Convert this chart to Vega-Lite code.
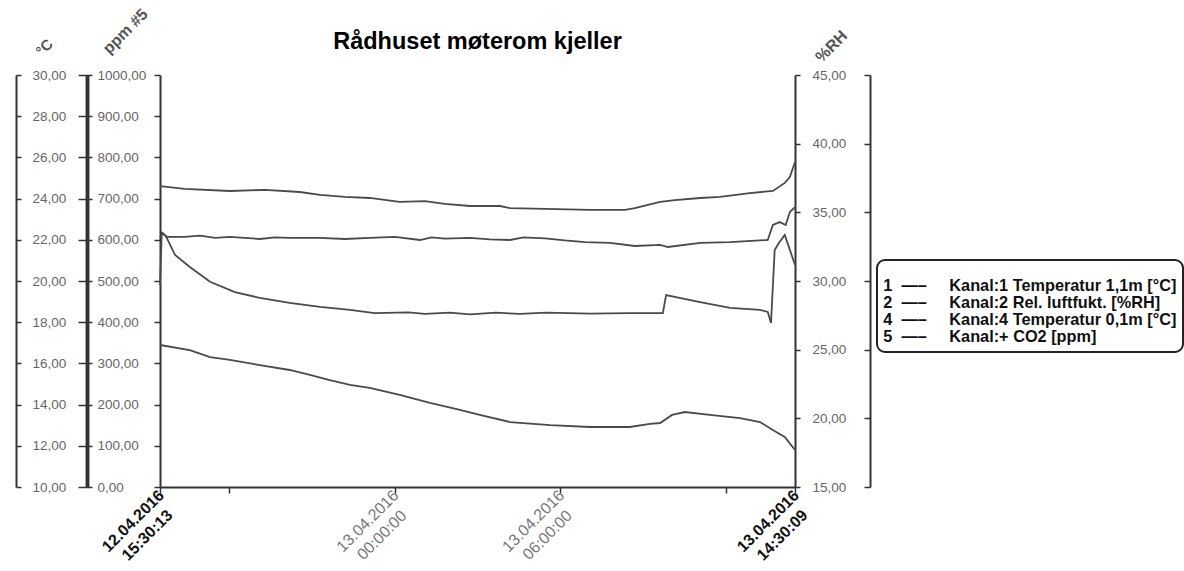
{
  "$schema": "https://vega.github.io/schema/vega-lite/v6.json",
  "autosize": {"type": "none"},
  "padding": {"left": 160, "top": 75, "right": 389, "bottom": 84},
  "width": 635,
  "height": 412,
  "background": "white",
  "title": {"text": "Rådhuset møterom kjeller", "font": "Liberation Sans", "fontSize": 23.5, "fontWeight": "bold", "color": "#000", "anchor": "middle", "frame": "group", "baseline": "alphabetic", "offset": 10, "dy": 77},
  "data": {"values": [
    {"t": "2016-04-12T15:30:13", "kanal": "1", "v": 24.61},
    {"t": "2016-04-12T16:24:00", "kanal": "1", "v": 24.47},
    {"t": "2016-04-12T18:02:00", "kanal": "1", "v": 24.37},
    {"t": "2016-04-12T19:18:00", "kanal": "1", "v": 24.42},
    {"t": "2016-04-12T20:34:00", "kanal": "1", "v": 24.32},
    {"t": "2016-04-12T21:18:00", "kanal": "1", "v": 24.18},
    {"t": "2016-04-12T22:12:00", "kanal": "1", "v": 24.08},
    {"t": "2016-04-12T23:06:00", "kanal": "1", "v": 24.03},
    {"t": "2016-04-13T00:11:00", "kanal": "1", "v": 23.84},
    {"t": "2016-04-13T01:06:00", "kanal": "1", "v": 23.88},
    {"t": "2016-04-13T01:49:00", "kanal": "1", "v": 23.74},
    {"t": "2016-04-13T02:44:00", "kanal": "1", "v": 23.64},
    {"t": "2016-04-13T03:49:00", "kanal": "1", "v": 23.64},
    {"t": "2016-04-13T04:11:00", "kanal": "1", "v": 23.54},
    {"t": "2016-04-13T05:27:00", "kanal": "1", "v": 23.50},
    {"t": "2016-04-13T07:05:00", "kanal": "1", "v": 23.45},
    {"t": "2016-04-13T08:21:00", "kanal": "1", "v": 23.45},
    {"t": "2016-04-13T08:42:00", "kanal": "1", "v": 23.54},
    {"t": "2016-04-13T09:37:00", "kanal": "1", "v": 23.84},
    {"t": "2016-04-13T10:09:00", "kanal": "1", "v": 23.93},
    {"t": "2016-04-13T11:04:00", "kanal": "1", "v": 24.03},
    {"t": "2016-04-13T11:47:00", "kanal": "1", "v": 24.08},
    {"t": "2016-04-13T12:52:00", "kanal": "1", "v": 24.27},
    {"t": "2016-04-13T13:42:00", "kanal": "1", "v": 24.37},
    {"t": "2016-04-13T14:08:00", "kanal": "1", "v": 24.76},
    {"t": "2016-04-13T14:19:00", "kanal": "1", "v": 25.05},
    {"t": "2016-04-13T14:30:09", "kanal": "1", "v": 25.78},

    {"t": "2016-04-12T15:30:13", "kanal": "4", "v": 22.09},
    {"t": "2016-04-12T15:36:00", "kanal": "4", "v": 22.33},
    {"t": "2016-04-12T15:45:00", "kanal": "4", "v": 22.14},
    {"t": "2016-04-12T16:24:00", "kanal": "4", "v": 22.14},
    {"t": "2016-04-12T16:57:00", "kanal": "4", "v": 22.20},
    {"t": "2016-04-12T17:30:00", "kanal": "4", "v": 22.09},
    {"t": "2016-04-12T18:02:00", "kanal": "4", "v": 22.14},
    {"t": "2016-04-12T19:07:00", "kanal": "4", "v": 22.04},
    {"t": "2016-04-12T19:40:00", "kanal": "4", "v": 22.12},
    {"t": "2016-04-12T20:12:00", "kanal": "4", "v": 22.09},
    {"t": "2016-04-12T21:18:00", "kanal": "4", "v": 22.09},
    {"t": "2016-04-12T22:12:00", "kanal": "4", "v": 22.04},
    {"t": "2016-04-12T23:06:00", "kanal": "4", "v": 22.09},
    {"t": "2016-04-13T00:01:00", "kanal": "4", "v": 22.14},
    {"t": "2016-04-13T00:55:00", "kanal": "4", "v": 21.99},
    {"t": "2016-04-13T01:20:00", "kanal": "4", "v": 22.12},
    {"t": "2016-04-13T01:49:00", "kanal": "4", "v": 22.06},
    {"t": "2016-04-13T02:44:00", "kanal": "4", "v": 22.09},
    {"t": "2016-04-13T03:27:00", "kanal": "4", "v": 22.02},
    {"t": "2016-04-13T04:11:00", "kanal": "4", "v": 21.99},
    {"t": "2016-04-13T04:40:00", "kanal": "4", "v": 22.12},
    {"t": "2016-04-13T05:27:00", "kanal": "4", "v": 22.07},
    {"t": "2016-04-13T06:10:00", "kanal": "4", "v": 21.97},
    {"t": "2016-04-13T06:54:00", "kanal": "4", "v": 21.89},
    {"t": "2016-04-13T07:48:00", "kanal": "4", "v": 21.85},
    {"t": "2016-04-13T08:42:00", "kanal": "4", "v": 21.70},
    {"t": "2016-04-13T09:37:00", "kanal": "4", "v": 21.75},
    {"t": "2016-04-13T09:54:00", "kanal": "4", "v": 21.65},
    {"t": "2016-04-13T11:04:00", "kanal": "4", "v": 21.85},
    {"t": "2016-04-13T12:09:00", "kanal": "4", "v": 21.89},
    {"t": "2016-04-13T13:31:00", "kanal": "4", "v": 21.99},
    {"t": "2016-04-13T13:42:00", "kanal": "4", "v": 22.72},
    {"t": "2016-04-13T13:57:00", "kanal": "4", "v": 22.86},
    {"t": "2016-04-13T14:10:00", "kanal": "4", "v": 22.72},
    {"t": "2016-04-13T14:19:00", "kanal": "4", "v": 23.35},
    {"t": "2016-04-13T14:30:09", "kanal": "4", "v": 23.59},

    {"t": "2016-04-12T15:30:13", "kanal": "5", "v": 490},
    {"t": "2016-04-12T15:34:00", "kanal": "5", "v": 617},
    {"t": "2016-04-12T15:43:00", "kanal": "5", "v": 609},
    {"t": "2016-04-12T16:03:00", "kanal": "5", "v": 563},
    {"t": "2016-04-12T16:35:00", "kanal": "5", "v": 534},
    {"t": "2016-04-12T17:19:00", "kanal": "5", "v": 498},
    {"t": "2016-04-12T18:13:00", "kanal": "5", "v": 473},
    {"t": "2016-04-12T19:07:00", "kanal": "5", "v": 459},
    {"t": "2016-04-12T20:12:00", "kanal": "5", "v": 447},
    {"t": "2016-04-12T21:18:00", "kanal": "5", "v": 437},
    {"t": "2016-04-12T22:23:00", "kanal": "5", "v": 430},
    {"t": "2016-04-12T23:17:00", "kanal": "5", "v": 422},
    {"t": "2016-04-13T00:30:00", "kanal": "5", "v": 424},
    {"t": "2016-04-13T01:06:00", "kanal": "5", "v": 420},
    {"t": "2016-04-13T02:00:00", "kanal": "5", "v": 423},
    {"t": "2016-04-13T02:44:00", "kanal": "5", "v": 419},
    {"t": "2016-04-13T03:40:00", "kanal": "5", "v": 423},
    {"t": "2016-04-13T04:32:00", "kanal": "5", "v": 420},
    {"t": "2016-04-13T05:30:00", "kanal": "5", "v": 423},
    {"t": "2016-04-13T07:05:00", "kanal": "5", "v": 421},
    {"t": "2016-04-13T08:30:00", "kanal": "5", "v": 422},
    {"t": "2016-04-13T09:43:00", "kanal": "5", "v": 422},
    {"t": "2016-04-13T09:50:00", "kanal": "5", "v": 466},
    {"t": "2016-04-13T11:04:00", "kanal": "5", "v": 449},
    {"t": "2016-04-13T12:09:00", "kanal": "5", "v": 435},
    {"t": "2016-04-13T13:14:00", "kanal": "5", "v": 430},
    {"t": "2016-04-13T13:31:00", "kanal": "5", "v": 425},
    {"t": "2016-04-13T13:38:00", "kanal": "5", "v": 398},
    {"t": "2016-04-13T13:46:00", "kanal": "5", "v": 575},
    {"t": "2016-04-13T13:55:00", "kanal": "5", "v": 592},
    {"t": "2016-04-13T14:08:00", "kanal": "5", "v": 612},
    {"t": "2016-04-13T14:30:09", "kanal": "5", "v": 539},

    {"t": "2016-04-12T15:30:13", "kanal": "2", "v": 25.34},
    {"t": "2016-04-12T16:35:00", "kanal": "2", "v": 24.97},
    {"t": "2016-04-12T17:19:00", "kanal": "2", "v": 24.46},
    {"t": "2016-04-12T18:02:00", "kanal": "2", "v": 24.25},
    {"t": "2016-04-12T19:07:00", "kanal": "2", "v": 23.88},
    {"t": "2016-04-12T20:12:00", "kanal": "2", "v": 23.52},
    {"t": "2016-04-12T20:56:00", "kanal": "2", "v": 23.16},
    {"t": "2016-04-12T21:39:00", "kanal": "2", "v": 22.79},
    {"t": "2016-04-12T22:23:00", "kanal": "2", "v": 22.43},
    {"t": "2016-04-12T23:06:00", "kanal": "2", "v": 22.21},
    {"t": "2016-04-13T00:11:00", "kanal": "2", "v": 21.70},
    {"t": "2016-04-13T01:17:00", "kanal": "2", "v": 21.12},
    {"t": "2016-04-13T02:22:00", "kanal": "2", "v": 20.61},
    {"t": "2016-04-13T03:05:00", "kanal": "2", "v": 20.25},
    {"t": "2016-04-13T04:11:00", "kanal": "2", "v": 19.73},
    {"t": "2016-04-13T05:38:00", "kanal": "2", "v": 19.51},
    {"t": "2016-04-13T07:05:00", "kanal": "2", "v": 19.37},
    {"t": "2016-04-13T08:31:00", "kanal": "2", "v": 19.37},
    {"t": "2016-04-13T09:15:00", "kanal": "2", "v": 19.59},
    {"t": "2016-04-13T09:37:00", "kanal": "2", "v": 19.66},
    {"t": "2016-04-13T10:03:00", "kanal": "2", "v": 20.25},
    {"t": "2016-04-13T10:31:00", "kanal": "2", "v": 20.46},
    {"t": "2016-04-13T11:25:00", "kanal": "2", "v": 20.25},
    {"t": "2016-04-13T12:31:00", "kanal": "2", "v": 20.02},
    {"t": "2016-04-13T13:14:00", "kanal": "2", "v": 19.73},
    {"t": "2016-04-13T13:42:00", "kanal": "2", "v": 19.15},
    {"t": "2016-04-13T14:08:00", "kanal": "2", "v": 18.64},
    {"t": "2016-04-13T14:30:09", "kanal": "2", "v": 17.69}
  ]},
  "encoding": {
    "x": {
      "field": "t", "type": "temporal",
      "scale": {"domain": [
        {"year": 2016, "month": 4, "date": 12, "hours": 15, "minutes": 30, "seconds": 13},
        {"year": 2016, "month": 4, "date": 13, "hours": 14, "minutes": 30, "seconds": 9}
      ], "nice": false},
      "axis": {
        "title": null,
        "values": [
          {"year": 2016, "month": 4, "date": 12, "hours": 15, "minutes": 30, "seconds": 13},
          {"year": 2016, "month": 4, "date": 12, "hours": 18},
          {"year": 2016, "month": 4, "date": 13, "hours": 0},
          {"year": 2016, "month": 4, "date": 13, "hours": 6},
          {"year": 2016, "month": 4, "date": 13, "hours": 12},
          {"year": 2016, "month": 4, "date": 13, "hours": 14, "minutes": 30, "seconds": 9}
        ],
        "labelExpr": "hours(datum.value) == 18 || hours(datum.value) == 12 ? '' : [timeFormat(datum.value, '%d.%m.%Y'), timeFormat(datum.value, '%H:%M:%S')]",
        "labelAngle": -45,
        "labelAlign": "center",
        "labelBaseline": "top",
        "labelOffset": -33,
        "labelPadding": 22,
        "labelFontSize": 16,
        "labelLineHeight": 20,
        "labelFontWeight": {"condition": {"test": "hours(datum.value) == 15 || hours(datum.value) == 14", "value": "bold"}, "value": "normal"},
        "labelColor": {"condition": {"test": "hours(datum.value) == 15 || hours(datum.value) == 14", "value": "#111"}, "value": "#777"},
        "labelOverlap": false,
        "labelFlush": false,
        "labelBound": false,
        "grid": false,
        "domainColor": "#333",
        "domainWidth": 2,
        "tickColor": "#333",
        "tickWidth": 1.5,
        "tickSize": 6
      }
    },
    "color": {
      "field": "kanal", "type": "nominal",
      "scale": {"domain": ["1", "2", "4", "5"], "range": ["#4a4a4a", "#4a4a4a", "#4a4a4a", "#4a4a4a"]},
      "legend": {
        "orient": "none", "legendX": 717, "legendY": 185,
        "title": " ", "titleFontSize": 10, "titlePadding": 2,
        "padding": 6, "strokeColor": "#222", "cornerRadius": 8, "fillColor": "white",
        "symbolOpacity": 0, "symbolSize": 4, "symbolType": "circle", "labelOffset": -16,
        "labelFont": "Liberation Sans", "labelFontSize": 16.3, "labelFontWeight": "bold", "labelColor": "#111", "labelLimit": 500,
        "rowPadding": 0,
        "labelExpr": "datum.label == '1' ? '1\u00a0\u00a0—–\u00a0\u00a0\u00a0\u00a0\u00a0Kanal:1 Temperatur 1,1m [°C]' : datum.label == '2' ? '2\u00a0\u00a0—–\u00a0\u00a0\u00a0\u00a0\u00a0Kanal:2 Rel. luftfukt. [%RH]' : datum.label == '4' ? '4\u00a0\u00a0—–\u00a0\u00a0\u00a0\u00a0\u00a0Kanal:4 Temperatur 0,1m [°C]' : '5\u00a0\u00a0—–\u00a0\u00a0\u00a0\u00a0\u00a0Kanal:+ CO2 [ppm]'"
      }
    }
  },
  "layer": [
    {
      "transform": [{"filter": "datum.kanal == '1' || datum.kanal == '4'"}],
      "mark": {"type": "line", "strokeWidth": 1.8},
      "encoding": {"y": {"field": "v", "type": "quantitative", "scale": {"domain": [10, 30], "nice": false, "zero": false},
        "axis": {"orient": "right", "offset": -779, "values": [10, 12, 14, 16, 18, 20, 22, 24, 26, 28, 30],
          "domainColor": "#333", "domainWidth": 2, "tickColor": "#333", "tickWidth": 1.5, "tickSize": 5,
          "labelPadding": 11, "labelFontSize": 13.5, "labelColor": "#666", "labelExpr": "replace(format(datum.value, '.2f'), '.', ',')",
          "labelOverlap": false, "labelFlush": false, "labelBound": false, "grid": false,
          "title": "°C", "titleAngle": 315, "titleX": 28, "titleY": -28, "titleAlign": "center", "titleBaseline": "middle",
          "titleFontSize": 15, "titleFontWeight": "bold", "titleColor": "#555"}}}
    },
    {
      "transform": [{"filter": "datum.kanal == '5'"}],
      "mark": {"type": "line", "strokeWidth": 1.8},
      "encoding": {"y": {"field": "v", "type": "quantitative", "scale": {"domain": [0, 1000], "nice": false},
        "axis": {"orient": "right", "offset": -708, "values": [0, 100, 200, 300, 400, 500, 600, 700, 800, 900, 1000],
          "domainColor": "#333", "domainWidth": 3.5, "tickColor": "#333", "tickWidth": 1.5, "tickSize": 5,
          "labelPadding": 5, "labelFontSize": 13.5, "labelColor": "#666", "labelExpr": "replace(format(datum.value, '.2f'), '.', ',')",
          "labelOverlap": false, "labelFlush": false, "labelBound": false, "grid": false,
          "title": "ppm #5", "titleAngle": 315, "titleX": 38, "titleY": -44, "titleAlign": "center", "titleBaseline": "middle",
          "titleFontSize": 16, "titleFontWeight": "bold", "titleColor": "#555"}}}
    },
    {
      "transform": [{"filter": "datum.kanal == '2'"}],
      "mark": {"type": "line", "strokeWidth": 1.8},
      "encoding": {"y": {"field": "v", "type": "quantitative", "scale": {"domain": [15, 45], "nice": false, "zero": false},
        "axis": {"orient": "right", "offset": 0, "values": [15, 20, 25, 30, 35, 40, 45],
          "domainColor": "#333", "domainWidth": 2, "tickColor": "#333", "tickWidth": 1.5, "tickSize": 5,
          "labelPadding": 12, "labelFontSize": 13.5, "labelColor": "#666", "labelExpr": "replace(format(datum.value, '.2f'), '.', ',')",
          "labelOverlap": false, "labelFlush": false, "labelBound": false, "grid": false,
          "title": "%RH", "titleAngle": 315, "titleX": 36, "titleY": -29, "titleAlign": "center", "titleBaseline": "middle",
          "titleFontSize": 16, "titleFontWeight": "bold", "titleColor": "#555"}}}
    },
    {
      "transform": [{"filter": "datum.kanal == '5'"}],
      "mark": {"type": "line", "opacity": 0},
      "encoding": {"y": {"field": "v", "type": "quantitative", "scale": {"domain": [0, 1000], "nice": false},
        "axis": {"orient": "left", "offset": 73, "values": [0, 100, 200, 300, 400, 500, 600, 700, 800, 900, 1000],
          "domainColor": "#333", "domainWidth": 3.5, "tickColor": "#333", "tickWidth": 1.5, "tickSize": 9,
          "labels": false, "grid": false, "title": null}}}
    },
    {
      "transform": [{"filter": "datum.kanal == '5'"}],
      "mark": {"type": "line", "opacity": 0},
      "encoding": {"y": {"field": "v", "type": "quantitative", "scale": {"domain": [0, 1000], "nice": false},
        "axis": {"orient": "left", "offset": 0, "values": [0, 100, 200, 300, 400, 500, 600, 700, 800, 900, 1000],
          "domainColor": "#333", "domainWidth": 2, "tickColor": "#333", "tickWidth": 1.5, "tickSize": 6,
          "labels": false, "grid": false, "title": null}}}
    },
    {
      "transform": [{"filter": "datum.kanal == '2'"}],
      "mark": {"type": "line", "opacity": 0},
      "encoding": {"y": {"field": "v", "type": "quantitative", "scale": {"domain": [15, 45], "nice": false, "zero": false},
        "axis": {"orient": "left", "offset": -710, "values": [15, 20, 25, 30, 35, 40, 45],
          "domainColor": "#333", "domainWidth": 2, "tickColor": "#333", "tickWidth": 1.5, "tickSize": 6,
          "labels": false, "grid": false, "title": null}}}
    }
  ],
  "resolve": {"scale": {"y": "independent"}, "axis": {"y": "independent"}},
  "config": {
    "font": "Liberation Sans",
    "view": {"stroke": null},
    "axis": {"labelFont": "Liberation Sans", "titleFont": "Liberation Sans"},
    "legend": {"strokeWidth": 2}
  }
}
